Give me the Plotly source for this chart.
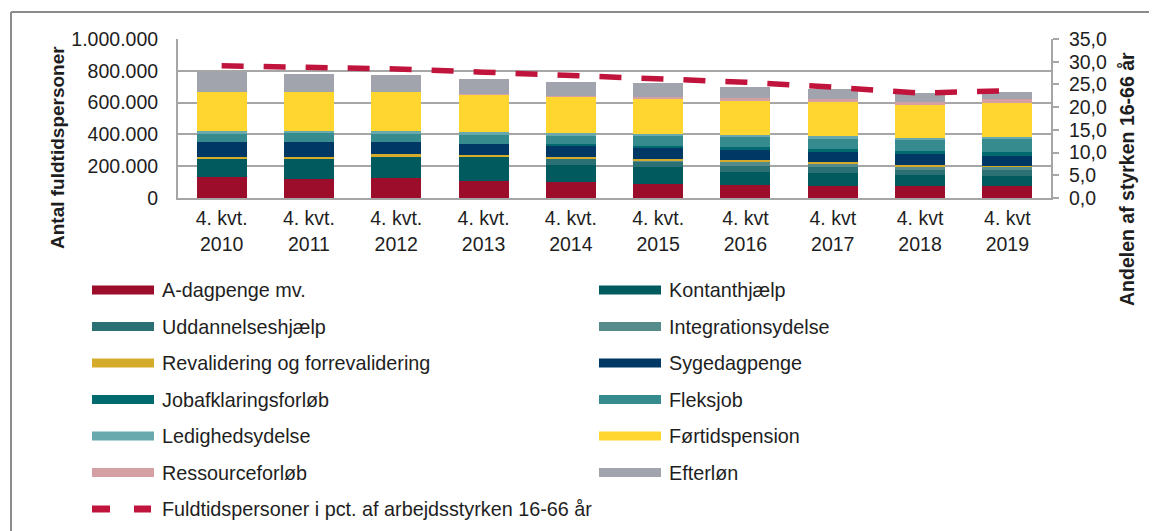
import plotly.graph_objects as go

# ---------------- data ----------------
categories = ["4. kvt.<br>2010", "4. kvt.<br>2011", "4. kvt.<br>2012", "4. kvt.<br>2013",
              "4. kvt.<br>2014", "4. kvt.<br>2015", "4. kvt<br>2016", "4. kvt<br>2017",
              "4. kvt<br>2018", "4. kvt<br>2019"]

a_dagpenge = [131000, 121000, 124000, 108000, 101000, 86000, 79000, 78000, 77000, 78000]
kontanthjaelp = [116000, 126000, 137000, 148000, 105000, 109000, 86000, 80000, 65000, 63000]
uddannelseshjaelp = [0, 0, 0, 0, 38000, 34000, 36000, 34000, 36000, 38000]
integrationsydelse = [0, 0, 0, 0, 0, 8000, 27000, 25000, 21000, 17000]
revalidering = [14000, 14000, 15000, 14000, 13000, 10000, 9000, 9000, 6000, 6000]
sygedagpenge = [91000, 93000, 76000, 72000, 76000, 65000, 63000, 63000, 69000, 63000]
jobafklaring = [0, 0, 0, 0, 4000, 15000, 21000, 21000, 21000, 25000]
fleksjob = [51000, 52000, 51000, 57000, 55000, 60000, 63000, 63000, 72000, 80000]
ledighedsydelse = [17000, 18000, 17000, 15000, 17000, 15000, 15000, 17000, 13000, 16000]
foertidspension = [247000, 240000, 247000, 236000, 227000, 219000, 217000, 211000, 204000, 213000]
ressourceforloeb = [0, 0, 0, 2000, 3000, 15000, 11000, 21000, 21000, 21000]
efterloen = [124000, 118000, 105000, 99000, 90000, 86000, 74000, 62000, 57000, 48000]

pct_arbejdsstyrke = [29.1, 28.8, 28.4, 27.7, 27.0, 26.4, 25.5, 24.4, 23.1, 23.6]

series_names = ["A-dagpenge mv.", "Kontanthjælp", "Uddannelseshjælp", "Integrationsydelse",
                "Revalidering og forrevalidering", "Sygedagpenge", "Jobafklaringsforløb",
                "Fleksjob", "Ledighedsydelse", "Førtidspension", "Ressourceforløb", "Efterløn"]
series_values = [a_dagpenge, kontanthjaelp, uddannelseshjaelp, integrationsydelse, revalidering,
                 sygedagpenge, jobafklaring, fleksjob, ledighedsydelse, foertidspension,
                 ressourceforloeb, efterloen]
series_colors = ["#9b0d2b", "#005a5e", "#2b7174", "#558b8a", "#d4ab2a", "#003865", "#006a6e",
                 "#358b8e", "#67a9ad", "#ffd530", "#d5a0a4", "#a1a4ad"]
line_name = "Fuldtidspersoner i pct. af arbejdsstyrken 16-66 år"
line_color = "#c0143c"

left_ticks = [0, 200000, 400000, 600000, 800000, 1000000]
right_ticks = [0, 5, 10, 15, 20, 25, 30, 35]

# ---------------- layout geometry ----------------
OFF = 8                      # page body margin in the browser
W, H = 1157 - OFF, 531 - OFF
PL, PR, PT, PB = 178 - OFF, 1051 - OFF, 39 - OFF, 198 - OFF  # plot area in figure pixels
PW, PH = PR - PL, PB - PT
FONT = "Liberation Sans, Arial, sans-serif"
TXT = "#1e1e1e"
GRID = "#a6a6a6"


def xp(px):
    """screen pixel x -> paper coordinate"""
    return (px - OFF - PL) / PW


def yp(py):
    """screen pixel y -> paper coordinate"""
    return (PB - (py - OFF)) / PH


fig = go.Figure()

for name, vals, col in zip(series_names, series_values, series_colors):
    fig.add_trace(go.Bar(x=categories, y=vals, name=name, marker=dict(color=col, line=dict(width=0)),
                         showlegend=False))

fig.add_trace(go.Scatter(x=categories, y=pct_arbejdsstyrke, name=line_name, yaxis="y2",
                         mode="lines", line=dict(color=line_color, width=5.5, dash="22px,20px"),
                         showlegend=False))

shapes = []
annotations = []

# outer frame (left & top edges visible)
shapes.append(dict(type="line", xref="paper", yref="paper", x0=xp(11), x1=xp(11),
                   y0=yp(12), y1=yp(545), line=dict(color="#8c8c8c", width=2)))
shapes.append(dict(type="line", xref="paper", yref="paper", x0=xp(11), x1=xp(1175),
                   y0=yp(12), y1=yp(12), line=dict(color="#8c8c8c", width=2)))

# manual legend (two columns)
col_x = [92, 599]
row_y0, row_dy = 290, 36.5
sw_len = 62
LFS = 19.8
for i, (name, col) in enumerate(zip(series_names, series_colors)):
    r, c = divmod(i, 2)
    cy = row_y0 + r * row_dy
    x0 = col_x[c]
    shapes.append(dict(type="rect", xref="paper", yref="paper", x0=xp(x0), x1=xp(x0 + sw_len),
                       y0=yp(cy - 4.5), y1=yp(cy + 4.5), fillcolor=col, line=dict(width=0)))
    annotations.append(dict(xref="paper", yref="paper", x=xp(x0 + sw_len + 6), y=yp(cy), text=name,
                            showarrow=False, xanchor="left", yanchor="middle",
                            font=dict(family=FONT, size=LFS, color=TXT)))
# line legend entry
r = len(series_names) // 2
cy = row_y0 + r * row_dy
for a, b in [(89, 113), (131, 154)]:
    shapes.append(dict(type="line", xref="paper", yref="paper", x0=xp(a + 3), x1=xp(b - 3),
                       y0=yp(cy), y1=yp(cy), line=dict(color=line_color, width=7)))
annotations.append(dict(xref="paper", yref="paper", x=xp(160), y=yp(cy), text=line_name,
                        showarrow=False, xanchor="left", yanchor="middle",
                        font=dict(family=FONT, size=LFS, color=TXT)))

# axis titles
annotations.append(dict(xref="paper", yref="paper", x=xp(57), y=yp(148), text="<b>Antal fuldtidspersoner</b>",
                        textangle=-90, showarrow=False, xanchor="center", yanchor="middle",
                        font=dict(family=FONT, size=19, color=TXT)))
annotations.append(dict(xref="paper", yref="paper", x=xp(1127), y=yp(179),
                        text="<b>Andelen af styrken 16-66 år</b>",
                        textangle=-90, showarrow=False, xanchor="center", yanchor="middle",
                        font=dict(family=FONT, size=19.5, color=TXT)))

fig.update_layout(
    width=W, height=H,
    margin=dict(l=PL, r=W - PR, t=PT, b=H - PB, pad=0),
    paper_bgcolor="white", plot_bgcolor="white",
    barmode="stack", bargap=0.427,
    separators=",.",
    showlegend=False,
    font=dict(family=FONT, size=19, color=TXT),
    xaxis=dict(showline=True, linecolor=GRID, linewidth=2, ticks="", showgrid=False,
               tickfont=dict(family=FONT, size=19.5, color=TXT), ticklabelstandoff=2),
    yaxis=dict(range=[0, 1000000], tickvals=left_ticks, tickformat=",d", showgrid=True,
               gridcolor=GRID, gridwidth=2, showline=True, linecolor=GRID, linewidth=2,
               ticks="", zeroline=False, tickfont=dict(family=FONT, size=19.5, color=TXT),
               ticklabelstandoff=14),
    yaxis2=dict(range=[0, 35], tickvals=right_ticks, tickformat=".1f", overlaying="y", side="right",
                showgrid=False, showline=True, linecolor=GRID, linewidth=2, ticks="outside",
                ticklen=6, tickwidth=2, tickcolor=GRID, zeroline=False,
                tickfont=dict(family=FONT, size=19.5, color=TXT), ticklabelstandoff=6),
    shapes=shapes,
    annotations=annotations,
)

fig.write_html("out.html")
